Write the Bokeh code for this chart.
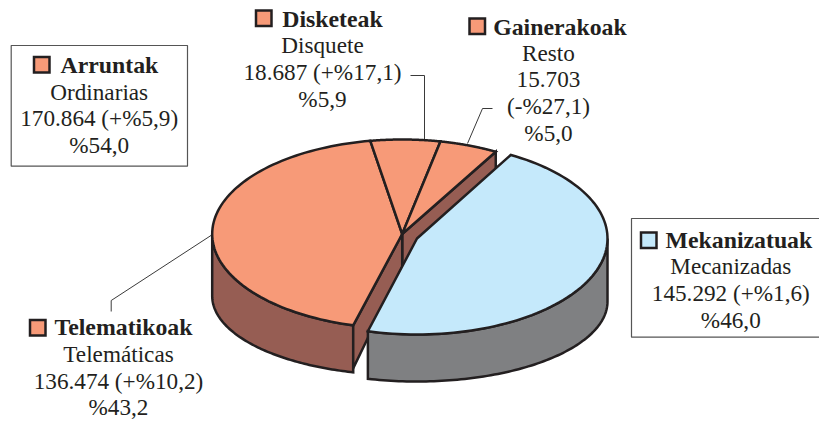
import numpy as np
from bokeh.core.properties import value
from bokeh.embed import file_html
from bokeh.models import Range1d
from bokeh.plotting import figure
from bokeh.resources import INLINE

# ---- data ----
titles = ["Arruntak", "Disketeak", "Gainerakoak", "Mekanizatuak", "Telematikoak"]
block_lines = [
    ["Ordinarias", "170.864 (+%5,9)", "%54,0"],
    ["Disquete", "18.687 (+%17,1)", "%5,9"],
    ["Resto", "15.703", "(-%27,1)", "%5,0"],
    ["Mecanizadas", "145.292 (+%1,6)", "%46,0"],
    ["Telemáticas", "136.474 (+%10,2)", "%43,2"],
]
slice_names = ["Mekanizatuak", "Telematikoak", "Disketeak", "Gainerakoak"]
slice_values = [145292, 136474, 18687, 15703]

# ---- style and layout ----
ORANGE, BLUE, BROWN, GREY = "#f79a78", "#c5e9fb", "#965d53", "#7f8082"
INK, LEAD = "#231f20", "#3a3a3a"
FONT = "Liberation Serif"
SIZE = "23.2px"
BOLD = "23.8px"
OUT = 2.5
W, H = 819, 421
TEXT_DY = -9

p = figure(width=W, height=H, output_backend="svg", toolbar_location=None,
           x_range=Range1d(0, W), y_range=Range1d(H, 0),
           x_axis_type=None, y_axis_type=None, min_border=0, outline_line_color=None,
           background_fill_color="white", border_fill_color="white")
p.grid.visible = False

# geometry of the tilted disc: angles are ellipse parameters, clockwise from the start
START = 60.5
fractions = np.array(slice_values, float) / sum(slice_values)
edges = START - 360 * np.concatenate([[0], np.cumsum(fractions)])


def rim(cx, cy, a, b, t0, t1, n=90):
    t = np.radians(np.linspace(t0, t1, n))
    return cx + a * np.cos(t), cy - b * np.sin(t)


def shape(x, y, fill):
    p.patch(list(x), list(y), fill_color=fill, line_color=INK, line_width=OUT, line_join="miter")


# leaders and boxes
for xs, ys in [([410, 424, 424], [75, 75, 139]),
               ([492, 482, 467], [108, 108, 143]),
               ([212, 110.7, 110.7], [234, 300, 311])]:
    p.line(xs, ys, line_color=LEAD, line_width=1)
for l, r, t, b in [(10.7, 187, 45, 165.7), (631, 830, 218, 336.7)]:
    p.quad(left=l, right=r, top=t, bottom=b, fill_color="white", line_color="#555555", line_width=1.2)

# orange group
OX, OY, OA, OB = 401.7, 233.5, 190, 94.5
DROP, B2 = 62, 79
o_end = edges[1]
o_last = edges[4]
near = (OX + OA * np.cos(np.radians(o_end)), OY - OB * np.sin(np.radians(o_end)))
far = (OX + OA * np.cos(np.radians(o_last)), OY - OB * np.sin(np.radians(o_last)))

# outer wall
tx, ty = rim(OX, OY, OA, OB, 180, 360 + o_end)
bx, by = rim(OX, OY + DROP, OA, B2, 360 + o_end, 180)
shape(np.r_[tx, bx], np.r_[ty, by], BROWN)
# cut faces
shape([OX, far[0], far[0], OX], [OY, far[1], far[1] + 20, OY + 33], BROWN)
shape([OX, near[0], near[0], OX], [OY, near[1], near[1] + 43, OY + 33], BROWN)
# top faces
for i in (1, 2, 3):
    sx, sy = rim(OX, OY, OA, OB, edges[i], edges[i + 1])
    shape(np.r_[OX, sx], np.r_[OY, sy], ORANGE)

# blue slice
BX, BY, BA, BB = 416.5, 238, 190.5, 96
b_end = edges[1]
tx, ty = rim(BX, BY, BA, BB, 0, b_end)
bx, by = rim(BX, BY + 63, BA, 80, b_end, 0)
shape(np.r_[tx, bx], np.r_[ty, by], GREY)
sx, sy = rim(BX, BY, BA, BB, edges[0], edges[1])
shape(np.r_[BX, sx], np.r_[BY, sy], BLUE)

# text blocks: swatch left, swatch top, title x, title baseline, centre of lines, first line baseline
anchors = [(33.5, 56.5, 60, 73, 98.7, 100),
           (255.5, 10, 281.7, 27, 322, 53.5),
           (469, 18, 492.7, 35, 548, 61),
           (640.5, 232, 665, 248.3, 730.3, 274.5),
           (29.5, 319.5, 54, 335.7, 118, 362.3)]
STEP = 26.8
SW = 15.5
for k, (sx0, sy0, tx0, ty0, cx0, y0) in enumerate(anchors):
    fill = BLUE if titles[k] == "Mekanizatuak" else ORANGE
    p.quad(left=sx0, right=sx0 + SW, top=sy0, bottom=sy0 + SW, fill_color=fill,
           line_color=INK, line_width=OUT, line_join="miter")
    p.text([tx0], [ty0 + TEXT_DY], text=[titles[k]], text_font=value(FONT), text_font_size=BOLD,
           text_font_style="bold", text_color=INK, text_baseline="alphabetic", text_align="left")
    lines = block_lines[k]
    p.text([cx0] * len(lines), [y0 + TEXT_DY + STEP * i for i in range(len(lines))], text=lines,
           text_font=value(FONT), text_font_size=SIZE, text_color=INK,
           text_baseline="alphabetic", text_align="center")

open("out.html", "w").write(file_html(p, INLINE))
